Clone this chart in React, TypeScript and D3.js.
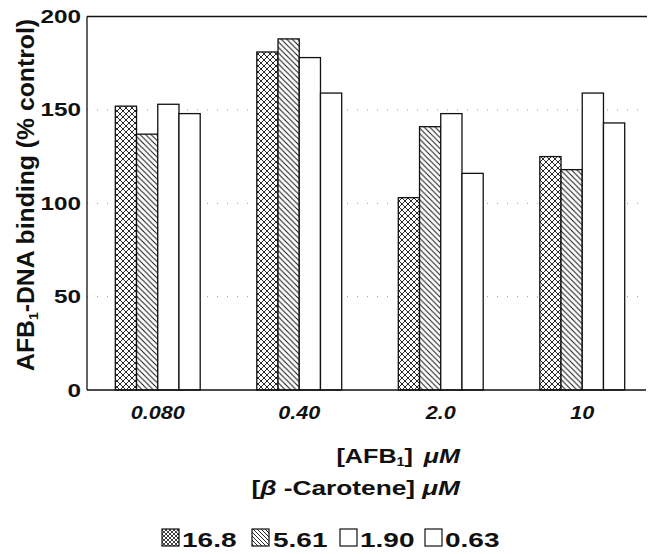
import React from 'react';
import * as d3 from 'd3';

// AFB1 concentrations (uM) on the x axis
const doses = ['0.080', '0.40', '2.0', '10'];
// beta-carotene concentrations (uM), one series each
const seriesNames = ['16.8', '5.61', '1.90', '0.63'];
const c168 = [152, 181, 103, 125];
const c561 = [137, 188, 141, 118];
const c190 = [153, 178, 148, 159];
const c063 = [148, 159, 116, 143];
const yTicks = [0, 50, 100, 150, 200];
const gridTicks = [50, 100, 150];

const seriesValues = [c168, c561, c190, c063];
const fills = ['url(#xhatch)', 'url(#dhatch)', '#fff', '#fff'];
const legendFills = ['url(#xhatchS)', 'url(#dhatchS)', '#fff', '#fff'];

const W = 649;
const H = 554;
const left = 87;
const top = 16.5;
const bottom = 390;
const font = '"Liberation Sans", Arial, Helvetica, sans-serif';

export default function App() {
  const x0 = d3.scaleBand<string>().domain(doses).range([left, 653]).paddingInner(0.4).paddingOuter(0.2);
  const x1 = d3.scaleBand<string>().domain(seriesNames).range([0, x0.bandwidth()]);
  const y = d3.scaleLinear().domain([0, 200]).range([bottom, top]);

  const legendPos = [
    { sx: 162, tx: 182 },
    { sx: 252, tx: 273 },
    { sx: 340, tx: 360 },
    { sx: 425, tx: 445 },
  ];

  return (
    <svg
      width={W}
      height={H}
      style={{ position: 'absolute', left: 0, top: 0, background: '#fff' }}
      fontFamily={font}
    >
      <defs>
        <pattern id="xhatch" width="6" height="6" patternUnits="userSpaceOnUse">
          <rect width="6" height="6" fill="#fff" />
          <path d="M0,0 L6,6 M6,0 L0,6 M-1,5 L1,7 M5,-1 L7,1 M-1,1 L1,-1 M5,7 L7,5" stroke="#111" strokeWidth="0.9" />
        </pattern>
        <pattern id="dhatch" width="5.5" height="5.5" patternUnits="userSpaceOnUse">
          <rect width="5.5" height="5.5" fill="#fff" />
          <path d="M0,0 L5.5,5.5 M-1,4.5 L1,6.5 M4.5,-1 L6.5,1" stroke="#111" strokeWidth="1" />
        </pattern>
        <pattern id="xhatchS" width="4" height="4" patternUnits="userSpaceOnUse">
          <rect width="4" height="4" fill="#fff" />
          <path d="M0,0 L4,4 M4,0 L0,4" stroke="#111" strokeWidth="0.8" />
        </pattern>
        <pattern id="dhatchS" width="4" height="4" patternUnits="userSpaceOnUse">
          <rect width="4" height="4" fill="#fff" />
          <path d="M0,0 L4,4 M-1,3 L1,5 M3,-1 L5,1" stroke="#111" strokeWidth="0.9" />
        </pattern>
      </defs>

      {/* dotted gridlines */}
      {gridTicks.map((t) => (
        <line
          key={t}
          x1={left}
          x2={646}
          y1={y(t)}
          y2={y(t)}
          stroke="#999"
          strokeWidth={1}
          strokeDasharray="1,9"
        />
      ))}

      {/* bars */}
      {seriesValues.map((vals, si) =>
        vals.map((v, gi) => {
          const bx = (x0(doses[gi]) ?? 0) + (x1(seriesNames[si]) ?? 0);
          return (
            <rect
              key={`${si}-${gi}`}
              x={bx}
              y={y(v)}
              width={x1.bandwidth()}
              height={bottom - y(v)}
              fill={fills[si]}
              stroke="#111"
              strokeWidth={1.3}
            />
          );
        })
      )}

      {/* frame */}
      <line x1={left} x2={647} y1={top} y2={top} stroke="#111" strokeWidth={1.3} />
      <line x1={left} x2={left} y1={top} y2={bottom} stroke="#111" strokeWidth={1.3} />
      <line x1={left} x2={646} y1={bottom} y2={bottom} stroke="#111" strokeWidth={1.5} />

      {/* y ticks */}
      {yTicks.map((t) => (
        <text
          key={t}
          transform={`translate(81,${y(t) + 6.5}) scale(1.35,1)`}
          textAnchor="end"
          fontSize={18}
          fontWeight="bold"
          fill="#111"
        >
          {t}
        </text>
      ))}

      {/* y label */}
      <text
        transform={`translate(34,${(18 + 372) / 2}) rotate(-90)`}
        textAnchor="middle"
        fontSize={23}
        fontWeight="bold"
        fill="#111"
        textLength={352}
        lengthAdjust="spacingAndGlyphs"
      >
        AFB<tspan fontSize={13} dy={4}>1</tspan>
        <tspan dy={-4}>-DNA binding (% control)</tspan>
      </text>

      {/* x ticks */}
      {doses.map((d) => (
        <text
          key={d}
          transform={`translate(${(x0(d) ?? 0) + x0.bandwidth() / 2},419) scale(1.2,1)`}
          textAnchor="middle"
          fontSize={18}
          fontWeight="bold"
          fontStyle="italic"
          fill="#111"
        >
          {d}
        </text>
      ))}

      {/* x axis title */}
      <text
        transform="translate(460,463) scale(1.2,1)"
        textAnchor="end"
        fontSize={21}
        fontWeight="bold"
        fill="#111"
      >
        [AFB<tspan fontSize={12} dy={3}>1</tspan>
        <tspan dy={-3}>]</tspan>
        <tspan fontStyle="italic" dx={9}>μM</tspan>
      </text>

      {/* legend title */}
      <text
        transform="translate(460,495) scale(1.25,1)"
        textAnchor="end"
        fontSize={21}
        fontWeight="bold"
        fill="#111"
      >
        [<tspan fontStyle="italic">β</tspan> -Carotene] <tspan fontStyle="italic">μM</tspan>
      </text>

      {/* legend */}
      {seriesNames.map((s, i) => (
        <g key={s}>
          <rect
            x={legendPos[i].sx}
            y={529}
            width={17}
            height={17}
            fill={legendFills[i]}
            stroke="#111"
            strokeWidth={1.2}
          />
          <text
            transform={`translate(${legendPos[i].tx},546.5) scale(1.4,1)`}
            fontSize={20}
            fontWeight="bold"
            fill="#111"
          >
            {s}
          </text>
        </g>
      ))}
    </svg>
  );
}
